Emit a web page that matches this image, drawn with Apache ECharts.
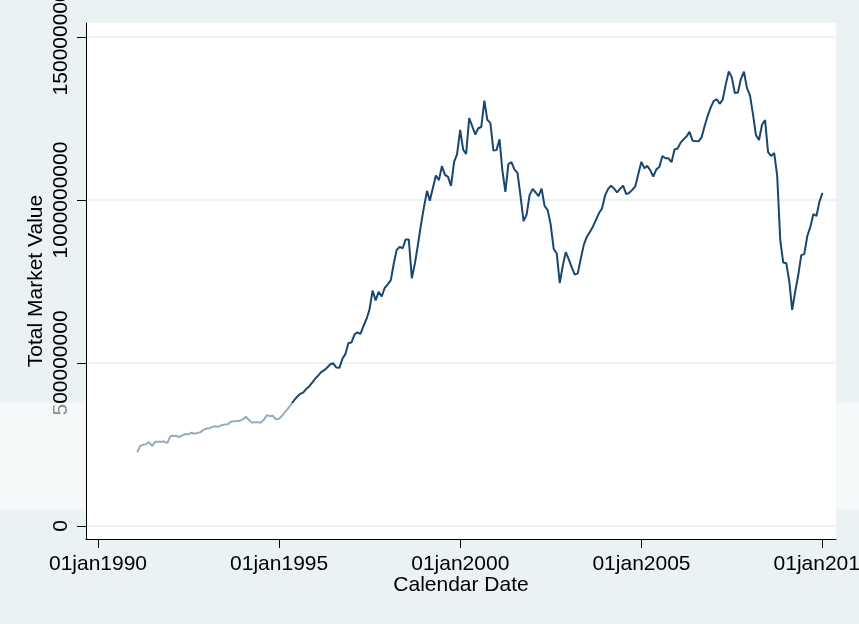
<!DOCTYPE html>
<html><head><meta charset="utf-8">
<script src="https://cdn.jsdelivr.net/npm/echarts@6/dist/echarts.min.js"></script>
<style>html,body{margin:0;padding:0;background:#EAF2F3}#c{width:859px;height:624px}</style>
</head><body><div id="c"></div>
<script>
// First observation: end of January 1991, monthly month-end observations
const startYear = 1991;
const startMonth = 1;
// Total market value, in millions
const marketValueMillions = [
  226,245,249,251,257,245,258,258,258,259,254,275,
  277,276,273,278,282,281,286,283,285,288,295,299,
  300,304,306,304,309,311,312,320,321,322,323,327,
  335,326,317,318,318,317,326,340,337,338,327,329,
  338,349,360,372,385,396,405,409,420,428,440,452,
  462,472,478,486,496,499,486,485,513,528,561,563,
  588,594,589,613,635,664,722,692,718,704,730,741,
  754,802,847,856,852,879,879,760,804,862,922,978,
  1028,998,1037,1075,1061,1104,1077,1071,1043,1117,1141,1215,
  1154,1141,1251,1227,1201,1220,1224,1305,1246,1236,1152,1153,
  1186,1092,1025,1110,1116,1094,1083,1011,935,955,1015,1034,
  1023,1012,1035,982,969,926,850,836,745,799,840,817,
  792,771,775,820,863,887,902,919,939,960,974,1014,
  1034,1044,1035,1023,1035,1044,1018,1022,1031,1042,1080,1117,
  1097,1105,1091,1072,1094,1101,1135,1128,1128,1116,1155,1158,
  1176,1186,1195,1209,1182,1181,1180,1193,1227,1259,1284,1304,
  1309,1295,1308,1354,1394,1377,1328,1330,1371,1394,1344,1321,
  1261,1199,1184,1231,1245,1147,1135,1144,1075,877,808,806,
  748,663,719,769,831,834,890,918,957,951,995,1022
];
const yTickValues = [0, 500000000, 1000000000, 1500000000];
const xTickYears = [1990, 1995, 2000, 2005, 2010];
const monthNames = ['jan','feb','mar','apr','may','jun','jul','aug','sep','oct','nov','dec'];

const seriesData = marketValueMillions.map((v, i) => [
  new Date(startYear, startMonth - 1 + i + 1, 0).getTime(),
  v * 1e6
]);
const xTicks = xTickYears.map(y => new Date(y, 0, 1).getTime());

function fmtDate(val) {
  const d = new Date(val);
  const dd = String(d.getDate()).padStart(2, '0');
  return dd + monthNames[d.getMonth()] + d.getFullYear();
}

const font = 'Liberation Sans, Arial, sans-serif';
const chart = echarts.init(document.getElementById('c'), null, {renderer: 'canvas'});
chart.setOption({
  animation: false,
  backgroundColor: '#EAF2F3',
  grid: {left: 86, right: 23, top: 23, bottom: 85, show: true, backgroundColor: '#ffffff', borderWidth: 0,
    containLabel: false, outerBoundsMode: 'none'},
  xAxis: {
    type: 'value',
    min: new Date(1989, 8, 2).getTime(),
    max: new Date(2010, 4, 16).getTime(),
    name: 'Calendar Date',
    nameLocation: 'middle',
    nameGap: 36,
    nameMoveOverlap: false,
    nameTextStyle: {fontFamily: font, fontSize: 21, color: '#000'},
    axisLine: {show: true, onZero: false, lineStyle: {color: '#000', width: 1}},
    axisTick: {show: true, length: 9, customValues: xTicks, lineStyle: {color: '#000', width: 1}},
    axisLabel: {customValues: xTicks, formatter: fmtDate, margin: 15, fontFamily: font, fontSize: 21, color: '#000'},
    splitLine: {show: false}
  },
  yAxis: {
    type: 'value',
    min: -40000000,
    max: 1543000000,
    name: 'Total Market Value',
    nameLocation: 'middle',
    nameRotate: 90,
    nameGap: 39,
    nameMoveOverlap: false,
    nameTextStyle: {fontFamily: font, fontSize: 21, color: '#000'},
    axisLine: {show: true, onZero: false, lineStyle: {color: '#000', width: 1}},
    axisTick: {show: true, length: 9, customValues: yTickValues, lineStyle: {color: '#000', width: 1}},
    axisLabel: {customValues: yTickValues, rotate: 90, margin: 14, fontFamily: font, fontSize: 21, color: '#000',
      formatter: v => String(Math.round(v))},
    splitLine: {show: true, customValues: yTickValues, lineStyle: {color: '#EAF2F3', width: 2}}
  },
  series: [{
    type: 'line',
    data: seriesData,
    showSymbol: false,
    symbol: 'none',
    lineStyle: {color: '#1A476F', width: 2},
    z: 3
  }],
  graphic: [{
    type: 'rect',
    z: 100,
    silent: true,
    shape: {x: 0, y: 403, width: 85, height: 106},
    style: {fill: 'rgba(255,255,255,0.55)'}
  }, {
    type: 'rect',
    z: 100,
    silent: true,
    shape: {x: 87, y: 403, width: 772, height: 106},
    style: {fill: 'rgba(255,255,255,0.55)'}
  }]
});
</script>
</body></html>
